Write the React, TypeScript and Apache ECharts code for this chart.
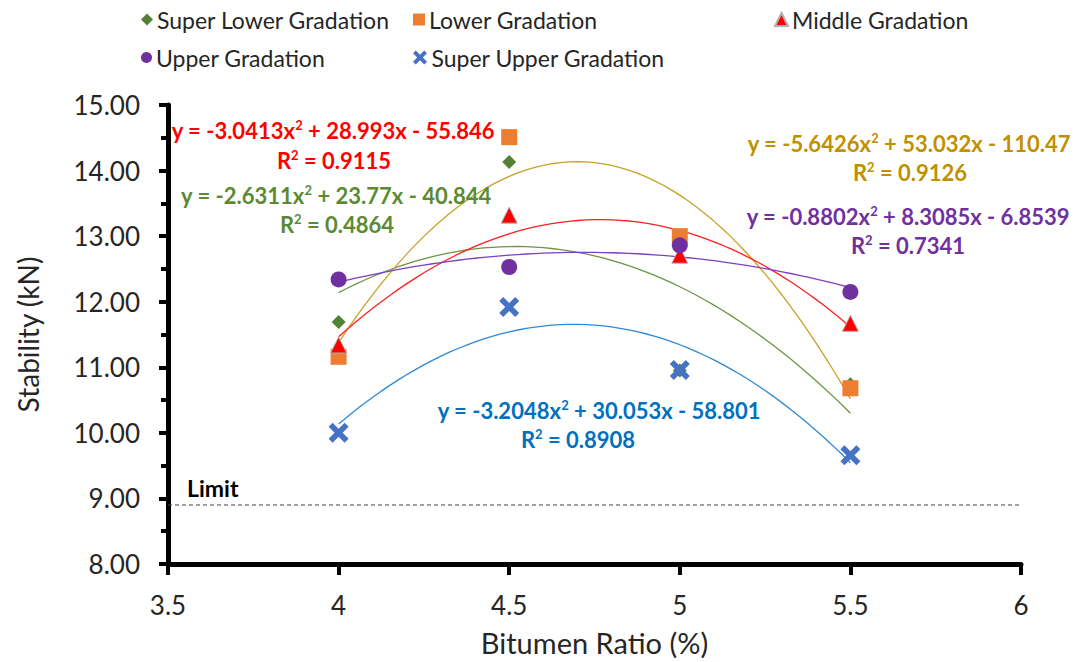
import React, { useEffect, useRef } from "react";
import * as echarts from "echarts";

// ---- data ----
const bitumen = [4, 4.5, 5, 5.5];
const seriesNames = [
  "Super Lower Gradation",
  "Lower Gradation",
  "Middle Gradation",
  "Upper Gradation",
  "Super Upper Gradation",
];
const superLower = [11.69, 14.13, 10.95, 10.74];
const lower = [11.16, 14.51, 13.0, 10.68];
const middle = [11.34, 13.32, 12.71, 11.67];
const upper = [12.34, 12.53, 12.86, 12.15];
const superUpper = [10.0, 11.92, 10.96, 9.66];
// trendline coefficients y = a x^2 + b x + c (as printed on the chart)
const coefA = [-2.6311, -5.6426, -3.0413, -0.8802, -3.2048];
const coefB = [23.77, 53.032, 28.993, 8.3085, 30.053];
const coefC = [-40.844, -110.47, -55.846, -6.8539, -58.801];
const rSquared = ["0.4864", "0.9126", "0.9115", "0.7341", "0.8908"];
const limitValue = 8.9;
const xTicks = [3.5, 4, 4.5, 5, 5.5, 6];
const yTicks = [8, 9, 10, 11, 12, 13, 14, 15];

const FONT = "Lato, 'Open Sans', sans-serif";
const markerColors = ["#548235", "#ED7D31", "#FF0000", "#7030A0", "#4472C4"];
const lineColors = ["#6E9445", "#C9A227", "#FF2020", "#7F3FBF", "#2D8AD8"];
const textColors = ["#5B8A33", "#BF9000", "#FF0000", "#7030A0", "#0070C0"];
const X_PATH =
  "path://M0,4 L4,0 L10,6 L16,0 L20,4 L14,10 L20,16 L16,20 L10,14 L4,20 L0,16 L6,10 Z";
const symbols = ["diamond", "rect", "triangle", "circle", X_PATH];
const symbolSizes = [14, 16, 16, 16, 20];

const fmt = (v: number) => Math.abs(v) + "";
function eqText(i: number) {
  const a = coefA[i], b = coefB[i], c = coefC[i];
  return `y = ${a < 0 ? "-" : ""}${fmt(a)}x{sup|2} ${b < 0 ? "-" : "+"} ${fmt(b)}x ${c < 0 ? "-" : "+"} ${fmt(c)}`;
}

// label placements (center x, y of eq line, y of R2 line)
const labelPos = [
  { x: 336, ey: 195, rx: 337, ry: 224 },
  { x: 909, ey: 143, rx: 910, ry: 172 },
  { x: 333, ey: 130, rx: 334, ry: 160 },
  { x: 908, ey: 216, rx: 908, ry: 245 },
  { x: 599, ey: 410, rx: 578, ry: 439 },
];

export default function App() {
  const ref = useRef<HTMLDivElement>(null);
  useEffect(() => {
    if (!ref.current) return;
    const chart = echarts.init(ref.current, null, { renderer: "svg" });
    const values = [superLower, lower, middle, upper, superUpper];

    const trendSeries = values.map((_, i) => {
      const pts: number[][] = [];
      const x0 = bitumen[0], x1 = bitumen[bitumen.length - 1];
      const n = 60;
      for (let k = 0; k <= n; k++) {
        const x = x0 + ((x1 - x0) * k) / n;
        pts.push([x, coefA[i] * x * x + coefB[i] * x + coefC[i]]);
      }
      return {
        type: "line",
        name: seriesNames[i] + " trend",
        data: pts,
        symbol: "none",
        smooth: false,
        z: 2,
        lineStyle: { color: lineColors[i], width: 1.3 },
        silent: true,
      };
    });

    const scatterSeries = values.map((vals, i) => ({
      type: "scatter",
      name: seriesNames[i],
      data: bitumen.map((x, k) => [x, vals[k]]),
      symbol: symbols[i],
      symbolSize: symbolSizes[i],
      z: 5,
      itemStyle: {
        color: markerColors[i],
        opacity: 1,
        ...(i === 2 ? { borderColor: "#B0B0B0", borderWidth: 1 } : {}),
      },
    }));

    const limitSeries = {
      type: "line",
      name: "Limit",
      data: [
        [xTicks[0], limitValue],
        [xTicks[xTicks.length - 1], limitValue],
      ],
      symbol: "none",
      z: 1,
      lineStyle: { color: "#404040", width: 1, type: [4, 3] },
      silent: true,
    };

    const legendPos = [
      { left: 141, top: 8 },
      { left: 413, top: 8 },
      { left: 774, top: 8 },
      { left: 141, top: 46 },
      { left: 413, top: 46 },
    ];
    const legendIcons = ["diamond", "rect", "triangle", "circle", X_PATH];
    const legendSizes = [
      [12, 12],
      [12, 12],
      [13, 13],
      [11, 11],
      [15, 14],
    ];

    const graphics: any[] = [];
    labelPos.forEach((p, i) => {
      const rich = {
        sup: {
          fontSize: 13,
          fontWeight: "bold",
          fontFamily: FONT,
          fill: textColors[i],
          verticalAlign: "top",
          padding: [0, 0, 10, 0],
        },
      };
      graphics.push({
        type: "text",
        x: p.x,
        y: p.ey,
        z: 10,
        style: {
          text: eqText(i),
          fill: textColors[i],
          font: `bold 22px ${FONT}`,
          align: "center",
          verticalAlign: "middle",
          rich,
        },
      });
      graphics.push({
        type: "text",
        x: p.rx,
        y: p.ry,
        z: 10,
        style: {
          text: `R{sup|2} = ${rSquared[i]}`,
          fill: textColors[i],
          font: `bold 22px ${FONT}`,
          align: "center",
          verticalAlign: "middle",
          rich,
        },
      });
    });
    graphics.push({
      type: "text",
      x: 187,
      y: 488,
      style: {
        text: "Limit",
        fill: "#000",
        font: `bold 23px ${FONT}`,
        align: "left",
        verticalAlign: "middle",
      },
    });

    chart.setOption({
      animation: false,
      backgroundColor: "#fff",
      legend: seriesNames.map((nm, i) => ({
        left: legendPos[i].left,
        top: legendPos[i].top,
        padding: 0,
        itemWidth: legendSizes[i][0],
        itemHeight: legendSizes[i][1],
        itemGap: 0,
        selectedMode: false,
        textStyle: { fontSize: 23, fontFamily: FONT, color: "#262626", padding: [0, 0, 0, -1] },
        data: [{ name: nm, icon: legendIcons[i], itemStyle: { color: markerColors[i] } }],
      })),
      grid: { left: 168, right: 59, top: 105, bottom: 98 },
      xAxis: {
        type: "value",
        min: xTicks[0],
        max: xTicks[xTicks.length - 1],
        interval: 0.5,
        name: "Bitumen Ratio (%)",
        nameLocation: "middle",
        nameGap: 64,
        nameTextStyle: { fontSize: 29, fontFamily: FONT, color: "#262626" },
        axisLine: { show: true, onZero: false, lineStyle: { color: "#000", width: 5 } },
        axisTick: { show: true, inside: false, length: 11, lineStyle: { color: "#000", width: 4 } },
        axisLabel: { fontSize: 26, fontFamily: FONT, color: "#262626", margin: 28 },
        splitLine: { show: false },
      },
      yAxis: {
        type: "value",
        min: yTicks[0],
        max: yTicks[yTicks.length - 1],
        interval: 1,
        name: "Stability (kN)",
        nameLocation: "middle",
        nameGap: 126,
        nameTextStyle: { fontSize: 28, fontFamily: FONT, color: "#262626" },
        axisLine: { show: true, onZero: false, lineStyle: { color: "#000", width: 5 } },
        axisTick: { show: true, inside: false, length: 9, lineStyle: { color: "#000", width: 4 } },
        minorTick: { show: true, splitNumber: 2, length: 7, lineStyle: { color: "#000", width: 4 } },
        axisLabel: {
          fontSize: 26,
          fontFamily: FONT,
          color: "#262626",
          margin: 28,
          formatter: (v: number) => v.toFixed(2),
        },
        splitLine: { show: false },
      },
      graphic: graphics,
      series: [limitSeries, ...trendSeries, ...scatterSeries],
    });
    return () => chart.dispose();
  }, []);
  return (
    <div
      ref={ref}
      style={{ position: "fixed", left: 0, top: 0, width: 1080, height: 662, background: "#fff" }}
    />
  );
}
